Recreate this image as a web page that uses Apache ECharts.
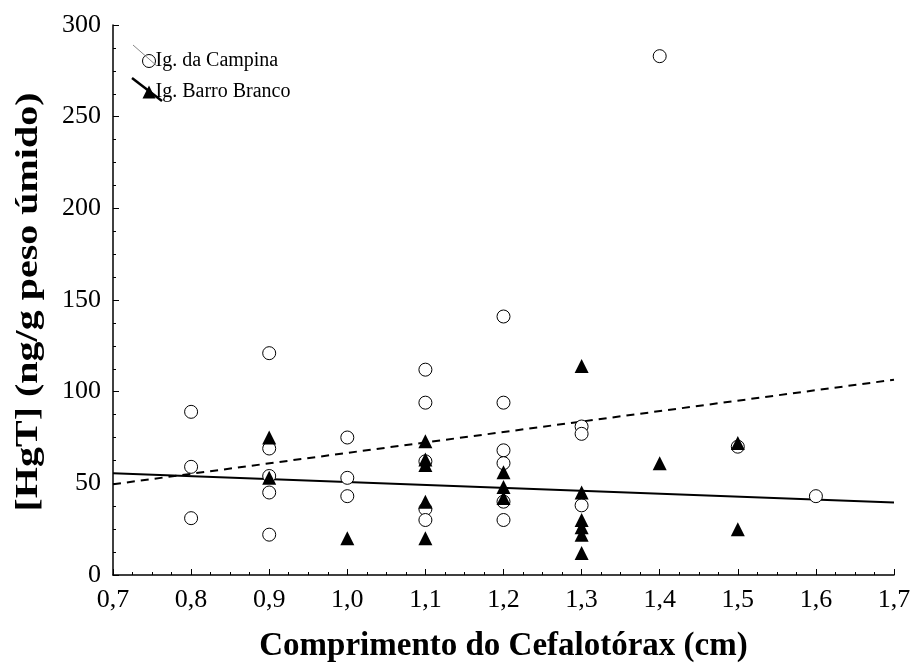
<!DOCTYPE html>
<html>
<head>
<meta charset="utf-8">
<script src="https://cdn.jsdelivr.net/npm/echarts@6/dist/echarts.min.js"></script>
<style>html,body{margin:0;padding:0;background:#fff}#c{width:915px;height:669px}</style>
</head>
<body>
<div id="c"></div>
<script>
const campinaX = [0.8,0.8,0.8, 0.9,0.9,0.9,0.9,0.9, 1.0,1.0,1.0, 1.1,1.1,1.1,1.1,1.1, 1.2,1.2,1.2,1.2,1.2,1.2, 1.3,1.3,1.3, 1.4, 1.5, 1.6];
const campinaY = [89,59,31, 121,69,54,45,22, 75,53,43, 112,94,62,36,30, 141,94,68,61,40,30, 81,77,38, 283, 70, 43];
const barroX = [0.9,0.9, 1.0, 1.1,1.1,1.1,1.1,1.1, 1.2,1.2,1.2, 1.3,1.3,1.3,1.3,1.3,1.3, 1.4, 1.5,1.5];
const barroY = [75,53, 20, 73,63,60,40,20, 56,48,42, 114,45,30,26,22,12, 61, 72,25];
const campinaFitX = [0.7, 1.7];
const campinaFitY = [49.5, 106.5];
const barroFitX = [0.7, 1.7];
const barroFitY = [55.5, 39.5];
const seriesNames = ['Ig. da Campina', 'Ig. Barro Branco'];
const xTitle = 'Comprimento do Cefalotórax (cm)';
const yTitle = '[HgT] (ng/g peso úmido)';

const zip = (xs, ys) => xs.map((x, i) => [x, ys[i]]);
const serif = 'Liberation Serif';

const chart = echarts.init(document.getElementById('c'), null, {renderer: 'canvas'});
chart.setOption({
  animation: false,
  backgroundColor: '#fff',
  grid: {left: 113, right: 21, top: 25, bottom: 94},
  legend: {
    left: 137, top: 46, orient: 'vertical', itemGap: 11,
    itemWidth: 13, itemHeight: 13,
    textStyle: {fontFamily: serif, fontSize: 20, color: '#000', padding: [0,0,0,-5]},
    data: [
      {name: seriesNames[0], icon: 'circle', itemStyle: {color: '#fff', borderColor: '#000', borderWidth: 1}},
      {name: seriesNames[1], icon: 'triangle', itemStyle: {color: '#000'}}
    ]
  },
  xAxis: {
    type: 'value', min: 0.7, max: 1.7, interval: 0.1,
    name: xTitle, nameLocation: 'middle', nameGap: 55,
    nameTextStyle: {fontFamily: serif, fontSize: 33, fontWeight: 'bold', color: '#000'},
    axisLine: {show: true, lineStyle: {color: '#000', width: 1.5}},
    axisTick: {show: true, inside: true, length: 6, lineStyle: {color: '#000'}},
    minorTick: {show: true, splitNumber: 4, length: 3, lineStyle: {color: '#000'}},
    splitLine: {show: false},
    axisLabel: {fontFamily: serif, fontSize: 26, color: '#000', margin: 12,
      formatter: v => v.toFixed(1).replace('.', ',')}
  },
  yAxis: {
    type: 'value', min: 0, max: 300, interval: 50,
    axisLine: {show: true, lineStyle: {color: '#000', width: 1.5}},
    axisTick: {show: true, inside: true, length: 6, lineStyle: {color: '#000'}},
    minorTick: {show: true, splitNumber: 4, length: 3, lineStyle: {color: '#000'}},
    splitLine: {show: false},
    axisLabel: {fontFamily: serif, fontSize: 26, color: '#000', margin: 12}
  },
  series: [
    {
      name: seriesNames[0], type: 'scatter', symbol: 'circle', symbolSize: 13,
      itemStyle: {color: '#fff', borderColor: '#000', borderWidth: 1, opacity: 1},
      data: zip(campinaX, campinaY), z: 3
    },
    {
      name: seriesNames[1], type: 'scatter', symbol: 'triangle', symbolSize: 14,
      itemStyle: {color: '#000', opacity: 1},
      data: zip(barroX, barroY), z: 4
    },
    {
      name: 'fit1', type: 'line', showSymbol: false, silent: true,
      lineStyle: {color: '#000', width: 2, type: [8, 6]},
      data: zip(campinaFitX, campinaFitY), z: 2
    },
    {
      name: 'fit2', type: 'line', showSymbol: false, silent: true,
      lineStyle: {color: '#000', width: 2},
      data: zip(barroFitX, barroFitY), z: 2
    }
  ],
  graphic: [
    {type: 'text', x: 29, y: 302, rotation: Math.PI / 2, scaleX: 1.25, scaleY: 1,
      style: {text: yTitle, fontFamily: serif, fontSize: 32, fontWeight: 'bold', fill: '#000',
        align: 'center', verticalAlign: 'middle'}},
    {type: 'line', shape: {x1: 133, y1: 45, x2: 157, y2: 66}, style: {stroke: '#888', lineWidth: 1}, z: 10},
    {type: 'line', shape: {x1: 132, y1: 78, x2: 162, y2: 101}, style: {stroke: '#000', lineWidth: 2.5}, z: 10}
  ]
});
</script>
</body>
</html>
